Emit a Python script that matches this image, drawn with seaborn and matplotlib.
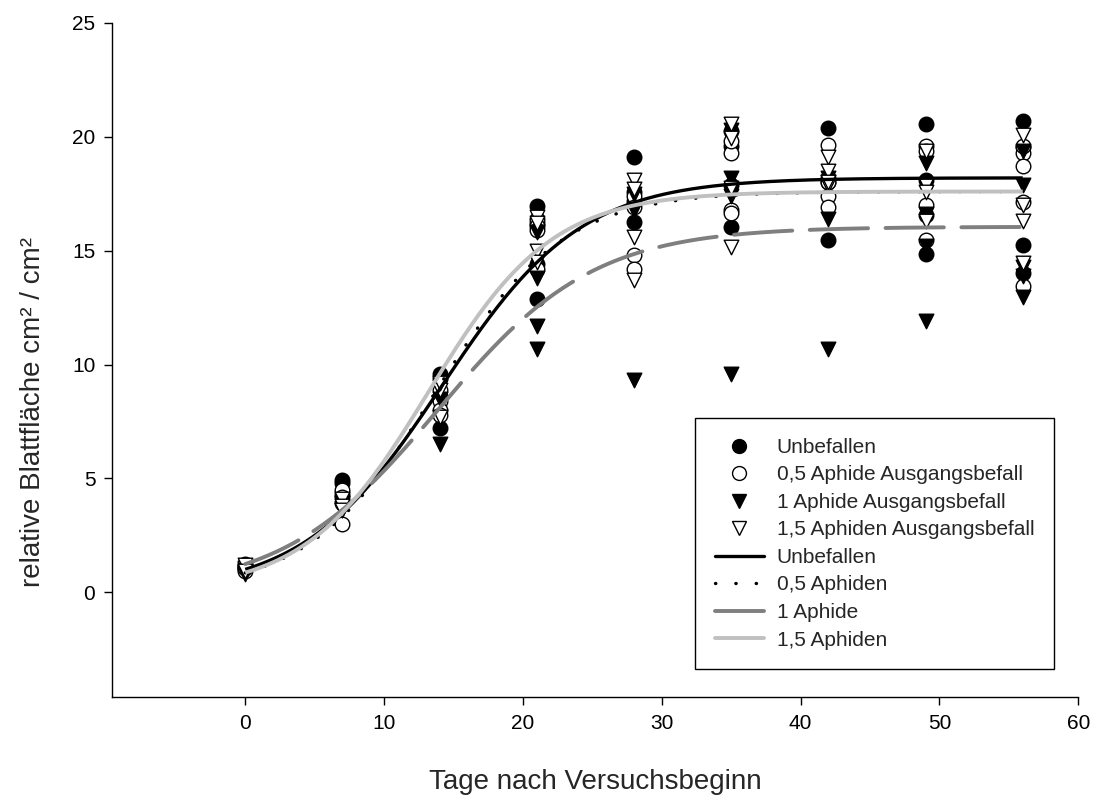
import numpy as np
import pandas as pd
import matplotlib
matplotlib.use("Agg")
import matplotlib.pyplot as plt
import seaborn as sns
from matplotlib.lines import Line2D

# Sampling days
days = [0, 7, 14, 21, 28, 35, 42, 49, 56]

# Relative leaf area (cm²/cm²) per treatment, replicates per sampling day
unbefallen = [
    [1.25, 1.1, 1.0], [4.95, 4.8, 4.3], [9.6, 9.4, 7.2, 8.6],
    [16.95, 14.4, 12.9, 16.2], [19.1, 17.2, 16.25, 17.6],
    [20.25, 16.05, 17.9, 19.6], [20.4, 18.2, 15.45, 18.0],
    [20.55, 18.1, 16.55, 14.85], [20.7, 19.55, 15.25, 14.0],
]
aphide_05 = [
    [1.15, 0.95, 1.05], [4.5, 4.2, 3.0, 3.9], [8.4, 8.0, 7.8, 8.9],
    [16.4, 16.1, 14.2, 15.9], [17.4, 14.8, 14.2, 16.9],
    [19.3, 19.8, 16.8, 16.65], [19.65, 17.4, 16.9, 18.0],
    [19.6, 17.0, 15.45, 19.4], [19.3, 18.7, 17.15, 13.45, 19.6],
]
aphide_1 = [
    [0.9, 1.0, 0.8], [3.9, 3.6, 3.7], [6.5, 8.5, 9.0],
    [15.8, 13.8, 11.7, 10.7], [16.8, 9.3, 17.5],
    [20.3, 18.2, 17.4, 9.6], [18.2, 16.4, 10.7, 18.0],
    [18.85, 16.6, 11.9, 15.2], [19.4, 17.9, 14.3, 13.9, 12.95],
]
aphiden_15 = [
    [1.05, 1.2, 0.95], [4.1, 3.8, 3.6], [8.9, 7.7, 9.2],
    [16.5, 15.0, 14.5, 16.2], [18.1, 17.7, 15.6, 13.7],
    [20.55, 19.95, 17.75, 15.15], [19.1, 18.5, 17.9, 18.0],
    [19.4, 17.9, 17.6, 16.3], [20.1, 17.0, 16.3, 14.45],
]

point_labels = ["Unbefallen", "0,5 Aphide Ausgangsbefall",
                "1 Aphide Ausgangsbefall", "1,5 Aphiden Ausgangsbefall"]

# Fitted sigmoid regressions y = a / (1 + exp(-(x - x0) / b))
curve_labels = ["Unbefallen", "0,5 Aphiden", "1 Aphide", "1,5 Aphiden"]
fit_a = [18.2, 17.6, 16.05, 17.6]
fit_b = [5.0, 4.6, 5.6, 4.45]
fit_x0 = [14.2, 13.7, 13.9, 13.2]

x_ticks = [0, 10, 20, 30, 40, 50, 60]
y_ticks = [0, 5, 10, 15, 20, 25]

sns.set_style("ticks")
plt.rcParams["font.family"] = ["Liberation Sans", "DejaVu Sans"]

W, H = 1098, 807
fig = plt.figure(figsize=(W / 100, H / 100), dpi=100)
ax = fig.add_axes([0.102, 0.1363, 0.880, 0.8352])


def to_frame(groups):
    rows = []
    for d, reps in zip(days, groups):
        for v in reps:
            rows.append((d, v))
    return pd.DataFrame(rows, columns=["Tag", "Wert"])


point_styles = [
    dict(marker="o", facecolor="black"),
    dict(marker="o", facecolor="white"),
    dict(marker="v", facecolor="black"),
    dict(marker="v", facecolor="white"),
]
for groups, st in zip([unbefallen, aphide_05, aphide_1, aphiden_15], point_styles):
    df = to_frame(groups)
    sns.scatterplot(data=df, x="Tag", y="Wert", ax=ax, marker=st["marker"],
                    color=st["facecolor"], edgecolor="black", linewidth=1.0,
                    s=110, zorder=2, legend=False)

curve_styles = [
    dict(color="black", lw=2.4, ls="-"),
    dict(color="black", lw=2.4, ls=(0, (0.1, 6.0))),
    dict(color="#7f7f7f", lw=2.8, ls=(0, (15.0, 4.5))),
    dict(color="#c0c0c0", lw=2.8, ls="-"),
]
xs = np.linspace(0, 56, 300)
for a, b, x0, st in zip(fit_a, fit_b, fit_x0, curve_styles):
    ys = a / (1 + np.exp(-(xs - x0) / b))
    sns.lineplot(x=xs, y=ys, ax=ax, color=st["color"], linewidth=st["lw"],
                 linestyle=st["ls"], zorder=3, legend=False,
                 dash_capstyle="round", solid_capstyle="butt")

ax.set_xlim(-9.6, 60)
ax.set_ylim(-4.6, 25)
ax.set_xticks(x_ticks)
ax.set_yticks(y_ticks)
ax.tick_params(axis="both", direction="out", length=6, width=1,
               labelsize=15, color="black", labelcolor="black", pad=6)
sns.despine(ax=ax, top=True, right=True)
for sp in ["left", "bottom"]:
    ax.spines[sp].set_color("black")
    ax.spines[sp].set_linewidth(1.0)

ax.set_xlabel("Tage nach Versuchsbeginn", fontsize=20, labelpad=26)
ax.set_ylabel("relative Blattfläche cm² / cm²", fontsize=20)
ax.yaxis.set_label_coords(-0.068, 0.423)

handles = []
for st in point_styles:
    handles.append(Line2D([], [], linestyle="none", marker=st["marker"],
                          markerfacecolor=st["facecolor"],
                          markeredgecolor="black", markersize=10))
for st in curve_styles:
    ls = st["ls"] if st["ls"] == "-" or st["color"] == "black" else "-"
    handles.append(Line2D([], [], color=st["color"], linewidth=st["lw"],
                          linestyle=ls, dash_capstyle="round"))

leg = fig.legend(handles, point_labels + curve_labels, loc="upper left",
                 bbox_to_anchor=(695 / W, 1 - 418 / H),
                 bbox_transform=fig.transFigure, borderaxespad=0,
                 fontsize=15, frameon=True, fancybox=False,
                 edgecolor="black", framealpha=1,
                 handlelength=2.35, handletextpad=0.62, labelspacing=0.41,
                 borderpad=0.95)
leg.get_frame().set_linewidth(1.0)

fig.savefig("out.png", dpi=100)
